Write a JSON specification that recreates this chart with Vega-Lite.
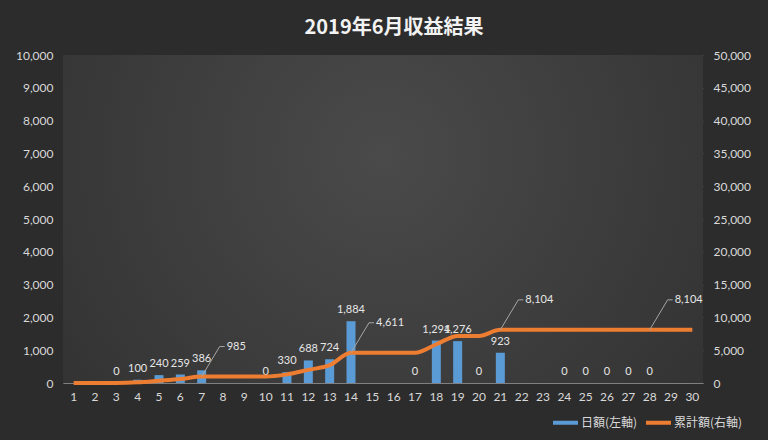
{
  "$schema": "https://vega.github.io/schema/vega-lite/v6.json",
  "width": 640,
  "height": 328,
  "autosize": {"type": "none"},
  "padding": {"left": 63, "top": 55, "right": 65, "bottom": 57},
  "background": "#2c2c2c",
  "title": {"text": "2019年6月収益結果", "font": "Noto Sans CJK JP", "fontSize": 20, "fontWeight": "bold", "color": "#f2f2f2", "anchor": "middle", "offset": 11, "dx": 11},
  "config": {
    "view": {"stroke": null},
    "axis": {"labelColor": "#d9d9d9", "labelFont": "Lato", "labelFontSize": 12, "ticks": false, "title": null}
  },
  "data": {"values": [
    {"day": 1, "daily": null, "cum": 0},
    {"day": 2, "daily": null, "cum": 0},
    {"day": 3, "daily": 0, "cum": 0},
    {"day": 4, "daily": 100, "cum": 100},
    {"day": 5, "daily": 240, "cum": 340},
    {"day": 6, "daily": 259, "cum": 599},
    {"day": 7, "daily": 386, "cum": 985},
    {"day": 8, "daily": null, "cum": 985},
    {"day": 9, "daily": null, "cum": 985},
    {"day": 10, "daily": 0, "cum": 985},
    {"day": 11, "daily": 330, "cum": 1315},
    {"day": 12, "daily": 688, "cum": 2003},
    {"day": 13, "daily": 724, "cum": 2727},
    {"day": 14, "daily": 1884, "cum": 4611},
    {"day": 15, "daily": null, "cum": 4611},
    {"day": 16, "daily": null, "cum": 4611},
    {"day": 17, "daily": 0, "cum": 4611},
    {"day": 18, "daily": 1294, "cum": 5905},
    {"day": 19, "daily": 1276, "cum": 7181},
    {"day": 20, "daily": 0, "cum": 7181},
    {"day": 21, "daily": 923, "cum": 8104},
    {"day": 22, "daily": null, "cum": 8104},
    {"day": 23, "daily": null, "cum": 8104},
    {"day": 24, "daily": 0, "cum": 8104},
    {"day": 25, "daily": 0, "cum": 8104},
    {"day": 26, "daily": 0, "cum": 8104},
    {"day": 27, "daily": 0, "cum": 8104},
    {"day": 28, "daily": 0, "cum": 8104},
    {"day": 29, "daily": null, "cum": 8104},
    {"day": 30, "daily": null, "cum": 8104}
  ]},
  "layer": [
    {
      "data": {"values": [{}]},
      "mark": {"type": "rect", "fill": {"gradient": "radial", "x1": 0.5, "y1": 0.4, "x2": 0.5, "y2": 0.4, "r1": 0, "r2": 0.75, "stops": [{"offset": 0, "color": "#4a4a4a"}, {"offset": 1, "color": "#2e2e2e"}]}},
      "encoding": {}
    },
    {
      "encoding": {
        "x": {"field": "day", "type": "ordinal", "scale": {"paddingInner": 0, "paddingOuter": 0}, "axis": {"labelAngle": 0, "domainColor": "#808080", "labelPadding": 8, "grid": false}},
        "y": {"field": "daily", "type": "quantitative", "scale": {"domain": [0, 10000], "nice": false}, "axis": {"orient": "left", "values": [0, 1000, 2000, 3000, 4000, 5000, 6000, 7000, 8000, 9000, 10000], "format": ",d", "grid": true, "gridColor": "#555555", "domain": false, "labelPadding": 10}}
      },
      "layer": [
        {
          "mark": {"type": "bar", "size": 9},
          "encoding": {
            "color": {"datum": "日額(左軸)", "type": "nominal", "scale": {"domain": ["日額(左軸)", "累計額(右軸)"], "range": ["#5b9bd5", "#ed7d31"]},
              "legend": {"orient": "none", "legendX": 490, "legendY": 355, "direction": "horizontal", "title": null, "symbolType": "M-1,-0.16H1V0.16H-1Z", "symbolSize": 625, "symbolStrokeWidth": 0, "labelColor": "#d9d9d9", "labelFont": "Noto Sans CJK JP", "labelFontSize": 12, "columnPadding": 8, "labelOffset": 3}}
          }
        },
        {
          "transform": [{"filter": "datum.daily != null"}],
          "mark": {"type": "text", "baseline": "bottom", "dy": -6, "color": "#e6e6e6", "font": "Lato", "fontSize": 11},
          "encoding": {"text": {"field": "daily", "type": "quantitative", "format": ","}}
        }
      ]
    },
    {
      "encoding": {
        "x": {"field": "day", "type": "ordinal", "axis": {"labelAngle": 0, "domainColor": "#808080", "labelPadding": 8, "grid": false}},
        "y": {"field": "cum", "type": "quantitative", "scale": {"domain": [0, 50000], "nice": false}, "axis": {"orient": "right", "values": [0, 5000, 10000, 15000, 20000, 25000, 30000, 35000, 40000, 45000, 50000], "format": ",d", "grid": false, "domain": false, "labelPadding": 10}}
      },
      "layer": [
        {
          "mark": {"type": "line", "color": "#ed7d31", "strokeWidth": 4, "interpolate": "monotone"}
        },
        {
          "transform": [{"filter": "datum.day == 7 || datum.day == 14 || datum.day == 21 || datum.day == 28"}],
          "mark": {"type": "rule", "color": "#a6a6a6", "strokeWidth": 1, "x2Offset": 18, "y2Offset": -30},
          "encoding": {"x2": {"field": "day"}, "y2": {"field": "cum"}}
        },
        {
          "transform": [{"filter": "datum.day == 7 || datum.day == 14 || datum.day == 21 || datum.day == 28"}],
          "mark": {"type": "rule", "color": "#a6a6a6", "strokeWidth": 1, "xOffset": 18, "yOffset": -30, "x2Offset": 23, "y2Offset": -30},
          "encoding": {"x2": {"field": "day"}, "y2": {"field": "cum"}}
        },
        {
          "transform": [{"filter": "datum.day == 7 || datum.day == 14 || datum.day == 21 || datum.day == 28"}],
          "mark": {"type": "text", "align": "left", "baseline": "middle", "dx": 25, "dy": -30, "color": "#e6e6e6", "font": "Lato", "fontSize": 11},
          "encoding": {"text": {"field": "cum", "type": "quantitative", "format": ","}}
        }
      ]
    }
  ],
  "resolve": {"scale": {"y": "independent"}}
}
